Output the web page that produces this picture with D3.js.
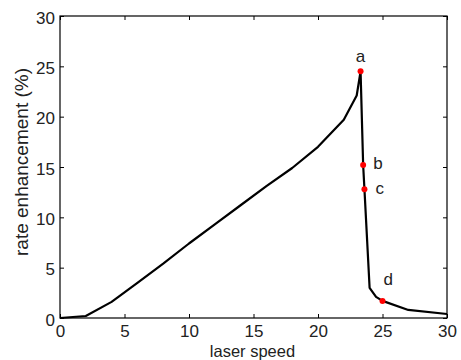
<!DOCTYPE html>
<html>
<head>
<meta charset="utf-8">
<script src="https://cdn.jsdelivr.net/npm/d3@7"></script>
<style>
  body { margin: 0; background: #fff; }
  svg { font-family: "Liberation Sans", Arial, sans-serif; }
  .tick text { font-size: 17px; fill: #222; }
</style>
</head>
<body>
<div id="chart"></div>
<script>
const W = 461, H = 360;
const margin = {top: 16, right: 14, bottom: 42, left: 60};

// curve data
const speed = [0, 2, 4, 6, 8, 10, 12, 14, 16, 18, 20, 22, 23, 23.3, 23.5, 23.6, 24, 24.5, 25, 27, 30];
const enhancement = [0, 0.2, 1.6, 3.5, 5.4, 7.4, 9.3, 11.2, 13.1, 14.9, 17.0, 19.7, 22.1, 24.5, 15.2, 12.8, 3.0, 2.1, 1.7, 0.8, 0.4];

// marked points
const markLabels = ["a", "b", "c", "d"];
const markX = [23.3, 23.5, 23.6, 25];
const markY = [24.5, 15.2, 12.8, 1.7];

const xTicks = [0, 5, 10, 15, 20, 25, 30];
const yTicks = [0, 5, 10, 15, 20, 25, 30];

const svg = d3.select("#chart").append("svg")
    .attr("width", W)
    .attr("height", H);

const iw = W - margin.left - margin.right;
const ih = H - margin.top - margin.bottom;

const x = d3.scaleLinear().domain([0, 30]).range([margin.left, margin.left + iw]);
const y = d3.scaleLinear().domain([0, 30]).range([margin.top + ih, margin.top]);

// axes with inward ticks, mirrored on top/right
svg.append("g")
   .attr("transform", `translate(0,${margin.top + ih})`)
   .call(d3.axisBottom(x).tickValues(xTicks).tickSizeInner(-4).tickSizeOuter(0).tickPadding(7))
   .call(g => g.select(".domain").remove());
svg.append("g")
   .attr("transform", `translate(${margin.left},0)`)
   .call(d3.axisLeft(y).tickValues(yTicks).tickSizeInner(-4).tickSizeOuter(0).tickPadding(5))
   .call(g => g.select(".domain").remove())
   .call(g => g.selectAll("text").attr("dy", "0.42em"));
svg.append("g")
   .attr("transform", `translate(0,${margin.top})`)
   .call(d3.axisTop(x).tickValues(xTicks).tickSizeInner(-4).tickSizeOuter(0).tickFormat(""))
   .call(g => g.select(".domain").remove());
svg.append("g")
   .attr("transform", `translate(${margin.left + iw},0)`)
   .call(d3.axisRight(y).tickValues(yTicks).tickSizeInner(-4).tickSizeOuter(0).tickFormat(""))
   .call(g => g.select(".domain").remove());

svg.selectAll(".tick line").attr("stroke", "#000");

// box
svg.append("rect")
   .attr("x", margin.left).attr("y", margin.top)
   .attr("width", iw).attr("height", ih)
   .attr("fill", "none").attr("stroke", "#000").attr("stroke-width", 1.2);

// curve
const line = d3.line().x(i => x(speed[i])).y(i => y(enhancement[i]));
svg.append("path")
   .attr("d", line(d3.range(speed.length)))
   .attr("fill", "none")
   .attr("stroke", "#000")
   .attr("stroke-width", 2.2)
   .attr("stroke-linejoin", "round");

// markers
svg.append("g").selectAll("circle")
   .data(d3.range(markLabels.length))
   .enter().append("circle")
   .attr("cx", i => x(markX[i]))
   .attr("cy", i => y(markY[i]))
   .attr("r", 3)
   .attr("fill", "#f00");

const labelDx = [0, 10, 11, 1];
const labelDy = [-9, 4, 5, -16];
const labelAnchor = ["middle", "start", "start", "start"];
svg.append("g").selectAll("text")
   .data(d3.range(markLabels.length))
   .enter().append("text")
   .attr("x", i => x(markX[i]) + labelDx[i])
   .attr("y", i => y(markY[i]) + labelDy[i])
   .attr("text-anchor", i => labelAnchor[i])
   .attr("font-size", 17)
   .attr("fill", "#222")
   .text(i => markLabels[i]);

// axis titles
svg.append("text")
   .attr("x", margin.left + iw / 2 - 1)
   .attr("y", H - 3.5)
   .attr("text-anchor", "middle")
   .attr("font-size", 16.5)
   .attr("fill", "#222")
   .text("laser speed");
svg.append("text")
   .attr("transform", `translate(28,162) rotate(-90)`)
   .attr("text-anchor", "middle")
   .attr("font-size", 19)
   .attr("fill", "#222")
   .text("rate enhancement (%)");
</script>
</body>
</html>
